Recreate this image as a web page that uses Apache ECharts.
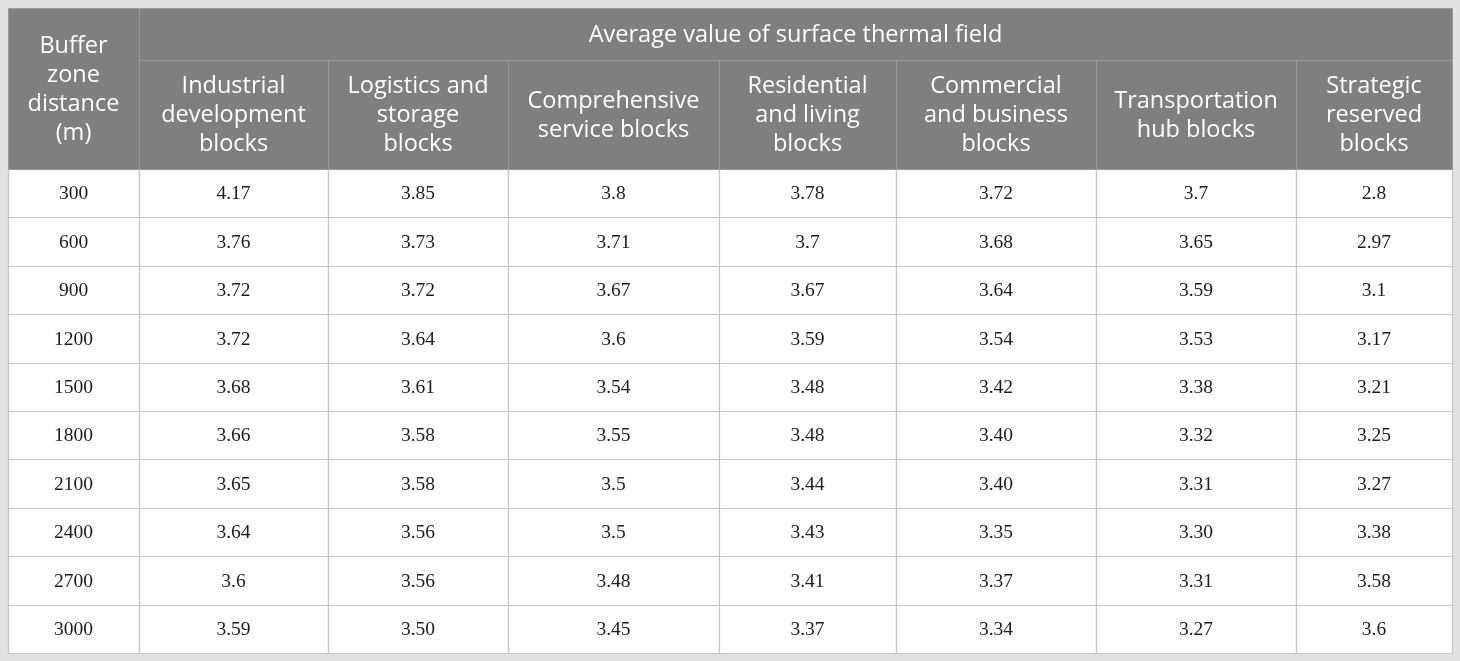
<!DOCTYPE html>
<html>
<head>
<meta charset="utf-8">
<script src="https://cdn.jsdelivr.net/npm/echarts@6/dist/echarts.min.js"></script>
<style>
  html, body { margin: 0; padding: 0; background: #e2e2e2; }
  #main { width: 1460px; height: 661px; }
</style>
</head>
<body>
<div id="main"></div>
<script>
// table content
const distances = ["300", "600", "900", "1200", "1500", "1800", "2100", "2400", "2700", "3000"];
const firstHeader = "Buffer\nzone\ndistance\n(m)";
const groupTitle = "Average value of surface thermal field";
const blockTypes = [
  "Industrial\ndevelopment\nblocks",
  "Logistics and\nstorage\nblocks",
  "Comprehensive\nservice blocks",
  "Residential\nand living\nblocks",
  "Commercial\nand business\nblocks",
  "Transportation\nhub blocks",
  "Strategic\nreserved\nblocks"
];
const industrial = ["4.17", "3.76", "3.72", "3.72", "3.68", "3.66", "3.65", "3.64", "3.6", "3.59"];
const logistics = ["3.85", "3.73", "3.72", "3.64", "3.61", "3.58", "3.58", "3.56", "3.56", "3.50"];
const comprehensive = ["3.8", "3.71", "3.67", "3.6", "3.54", "3.55", "3.5", "3.5", "3.48", "3.45"];
const residential = ["3.78", "3.7", "3.67", "3.59", "3.48", "3.48", "3.44", "3.43", "3.41", "3.37"];
const commercial = ["3.72", "3.68", "3.64", "3.54", "3.42", "3.40", "3.40", "3.35", "3.37", "3.34"];
const transport = ["3.7", "3.65", "3.59", "3.53", "3.38", "3.32", "3.31", "3.30", "3.31", "3.27"];
const strategic = ["2.8", "2.97", "3.1", "3.17", "3.21", "3.25", "3.27", "3.38", "3.58", "3.6"];

const valueColumns = [industrial, logistics, comprehensive, residential, commercial, transport, strategic];

// layout (pixels of the 1460x661 frame)
const colEdges = [8, 139, 328, 508, 719, 896, 1096, 1296, 1452];
const headTop = 8, headMid = 60, bodyTop = 169, bodyBottom = 653;
const rowH = (bodyBottom - bodyTop) / distances.length;

// body cells: [col, row]
const bodyData = [];
const bodyText = [];
distances.forEach((d, r) => {
  bodyData.push([0, r]);
  bodyText.push(d);
  valueColumns.forEach((col, c) => {
    bodyData.push([c + 1, r]);
    bodyText.push(col[r]);
  });
});

// header cells: [firstCol, lastCol, top, bottom]
const headData = [[0, 1, headTop, bodyTop], [1, 8, headTop, headMid]];
const headText = [firstHeader, groupTitle];
blockTypes.forEach((t, i) => {
  headData.push([i + 1, i + 2, headMid, bodyTop]);
  headText.push(t);
});

const cellRect = (p0, p1) => ({
  x: Math.round(p0[0]) + 0.5,
  y: Math.round(p0[1]) + 0.5,
  width: Math.round(p1[0]) - Math.round(p0[0]),
  height: Math.round(p1[1]) - Math.round(p0[1])
});

const renderBody = (params, api) => {
  const c = api.value(0), r = api.value(1);
  const p0 = api.coord([colEdges[c], bodyTop + r * rowH]);
  const p1 = api.coord([colEdges[c + 1], bodyTop + (r + 1) * rowH]);
  return {
    type: "group",
    children: [
      { type: "rect", shape: cellRect(p0, p1), style: { fill: "#ffffff", stroke: "#c6c6c6", lineWidth: 1.2 } },
      {
        type: "text",
        style: {
          text: bodyText[params.dataIndex],
          x: (p0[0] + p1[0]) / 2,
          y: (p0[1] + p1[1]) / 2 + 1,
          align: "center",
          verticalAlign: "middle",
          font: '19.5px "Liberation Serif"',
          fill: "#1c1c1c"
        }
      }
    ]
  };
};

const renderHead = (params, api) => {
  const p0 = api.coord([colEdges[api.value(0)], api.value(2)]);
  const p1 = api.coord([colEdges[api.value(1)], api.value(3)]);
  return {
    type: "group",
    children: [
      { type: "rect", shape: cellRect(p0, p1), style: { fill: "#7f7f7f", stroke: "#9a9a9a", lineWidth: 1 } },
      {
        type: "text",
        style: {
          text: headText[params.dataIndex],
          x: (p0[0] + p1[0]) / 2,
          y: (p0[1] + p1[1]) / 2 + 1,
          align: "center",
          verticalAlign: "middle",
          font: '23.5px "Open Sans"',
          lineHeight: 29,
          fill: "#ffffff"
        }
      }
    ]
  };
};

const myChart = echarts.init(document.getElementById("main"));
const option = {
  backgroundColor: "#e2e2e2",
  animation: false,
  grid: { left: 0, right: 0, top: 0, bottom: 0, outerBoundsMode: "none" },
  xAxis: { type: "value", min: 0, max: 1460, show: false },
  yAxis: { type: "value", min: 0, max: 661, inverse: true, show: false },
  series: [
    { type: "custom", data: bodyData, renderItem: renderBody, clip: false, silent: true },
    { type: "custom", data: headData, renderItem: renderHead, clip: false, silent: true }
  ]
};
myChart.setOption(option);
</script>
</body>
</html>
